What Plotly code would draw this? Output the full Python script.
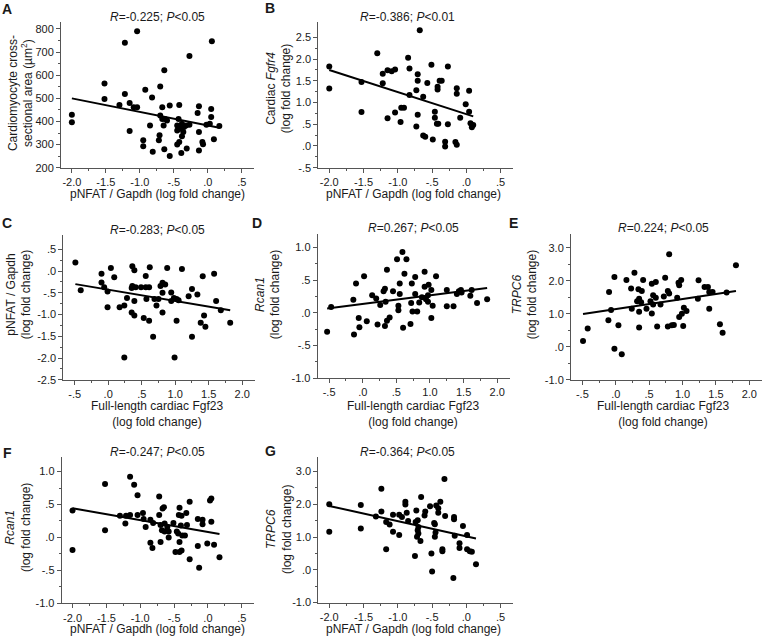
import numpy as np
import plotly.graph_objects as go

# ---- data ----
A_X = [-2.0, -2.0, -1.52, -1.52, -1.30, -1.22, -1.22, -1.04, -1.15, -1.09, -1.04, -1.15, -0.92, -0.95, -0.95,
       -0.82, -0.85, -0.81, -0.70, -0.70, -0.67, -0.67, -0.71, -0.72, -0.64, -0.63, -0.60, -0.65, -0.64, -0.56,
       -0.56, -0.45, -0.43, -0.45, -0.42, -0.40, -0.38, -0.36, -0.45, -0.42, -0.38, -0.39, -0.35, -0.32, -0.31,
       -0.27, -0.27, -0.15, -0.13, -0.13, -0.13, -0.08, -0.07, -0.02, 0.03, 0.05, 0.05, 0.06, 0.09, 0.17]
A_Y = [429, 397, 564, 497, 471, 519, 740, 790, 480, 461, 461, 359, 537, 319, 293,
       504, 383, 269, 551, 426, 411, 461, 340, 319, 621, 411, 404, 383, 280, 469,
       251, 383, 411, 361, 471, 369, 390, 354, 300, 311, 336, 264, 376, 383, 283,
       683, 386, 437, 466, 354, 274, 311, 301, 386, 390, 419, 454, 747, 323, 380]

B_X = [-2.0, -2.0, -1.53, -1.53, -1.30, -1.22, -1.22, -1.15, -1.09, -1.04, -1.15, -1.04, -0.95, -0.91, -0.96,
       -0.85, -0.83, -0.83, -0.73, -0.71, -0.71, -0.71, -0.73, -0.68, -0.63, -0.63, -0.60, -0.57, -0.51, -0.49,
       -0.46, -0.46, -0.43, -0.42, -0.42, -0.39, -0.36, -0.41, -0.31, -0.31, -0.27, -0.27, -0.16, -0.14, -0.14,
       -0.14, -0.09, -0.01, 0.04, 0.04, 0.06, 0.08, 0.10]
B_Y = [1.83, 1.32, 1.47, 0.78, 2.13, 1.66, 1.44, 1.74, 1.72, 1.76, 0.64, 0.77, 0.88, 0.88, 0.55,
       2.03, 1.78, 1.17, 1.28, 1.65, 1.50, 0.72, 0.45, 2.66, 1.13, 0.24, 0.21, 1.45, 1.87, 0.15,
       0.79, 0.65, 0.51, 1.30, 1.36, 1.50, 1.50, 0.51, 0.10, -0.01, 1.83, 0.50, 0.09, 0.03, 1.33,
       1.20, 0.65, 0.96, 1.27, 0.79, 0.52, 0.43, 0.48]

C_X = [-0.49, -0.41, -0.10, -0.10, -0.06, -0.01, -0.01, 0.04, 0.09, 0.17, 0.24, 0.24, 0.28, 0.36, 0.39,
       0.35, 0.36, 0.39, 0.35, 0.39, 0.41, 0.49, 0.56, 0.56, 0.57, 0.53, 0.61, 0.61, 0.62, 0.67,
       0.69, 0.72, 0.75, 0.78, 0.81, 0.81, 0.81, 0.85, 0.88, 0.94, 0.94, 0.98, 0.99, 1.02, 1.05,
       1.02, 1.10, 1.20, 1.25, 1.25, 1.33, 1.38, 1.41, 1.43, 1.45, 1.58, 1.61, 1.68, 1.82]
C_Y = [0.20, -0.44, -0.06, -0.26, -0.37, -0.47, -0.83, 0.07, -0.14, -0.83, -0.79, -1.99, -0.62, 0.11, 0.02,
       -0.39, -0.34, -0.69, -0.95, -1.02, -0.37, -0.37, -0.37, -0.11, -0.64, -1.08, -0.37, -1.14, 0.09, -1.51,
       -0.64, -0.79, -0.64, -0.34, -0.27, -0.50, -0.95, -0.31, 0.07, -0.49, -0.69, -0.62, -1.99, -0.64, -0.67,
       -1.14, 0.05, -0.58, -0.41, -1.51, -0.54, -1.19, -0.12, -1.02, -1.28, -0.06, -0.69, -0.90, -1.19]

D_X = [-0.53, -0.47, -0.14, -0.13, -0.10, -0.06, -0.05, 0.02, 0.06, 0.14, 0.20, 0.22, 0.26, 0.31, 0.33,
       0.33, 0.34, 0.36, 0.36, 0.40, 0.45, 0.51, 0.55, 0.55, 0.53, 0.53, 0.59, 0.62, 0.60, 0.65,
       0.72, 0.73, 0.71, 0.74, 0.78, 0.78, 0.81, 0.84, 0.88, 0.92, 0.94, 0.97, 0.98, 1.02, 1.02,
       1.04, 1.09, 1.25, 1.25, 1.35, 1.40, 1.43, 1.46, 1.47, 1.60, 1.62, 1.70, 1.85, 0.97, 0.92]
D_Y = [-0.29, 0.09, 0.20, -0.33, 0.45, -0.08, -0.22, 0.56, -0.13, 0.27, 0.22, -0.18, 0.12, 0.33, 0.37,
       -0.20, 0.17, 0.66, -0.12, -0.07, 0.33, 0.82, 0.45, 0.29, 0.04, 0.11, 0.93, 0.60, -0.23, 0.82,
       0.15, 0.45, -0.17, 0.02, 0.55, 0.29, 0.02, 0.16, 0.24, 0.63, 0.21, 0.27, 0.43, 0.35, -0.08,
       0.11, 0.56, 0.35, 0.10, 0.10, 0.29, 0.33, 0.35, 0.31, 0.26, 0.35, 0.15, 0.21, 0.17, 0.40]

E_X = [-0.49, -0.42, -0.10, -0.11, -0.07, -0.02, -0.02, 0.04, 0.09, 0.16, 0.23, 0.24, 0.28, 0.32, 0.34,
       0.35, 0.35, 0.35, 0.39, 0.38, 0.41, 0.46, 0.52, 0.54, 0.54, 0.56, 0.56, 0.60, 0.60, 0.62,
       0.67, 0.72, 0.74, 0.78, 0.80, 0.80, 0.78, 0.84, 0.87, 0.92, 0.94, 0.95, 0.98, 0.95, 0.99,
       1.01, 1.02, 1.06, 1.24, 1.23, 1.33, 1.38, 1.40, 1.40, 1.45, 1.56, 1.60, 1.66, 1.80]
E_Y = [0.17, 0.55, 1.66, 0.80, 1.11, 2.11, -0.06, 0.65, -0.23, 2.02, 1.76, 1.15, 2.24, 1.38, 1.74,
       1.45, 1.06, 0.58, 1.69, 1.35, 2.02, 1.15, 1.38, 1.91, 1.01, 1.56, 1.28, 1.48, 1.96, 0.61,
       1.28, 1.52, 2.09, 1.69, 2.80, 1.61, 0.61, 0.65, 0.66, 1.48, 1.94, 1.86, 2.02, 0.90, 1.00,
       0.63, 1.18, 1.08, 2.01, 1.45, 1.81, 1.81, 1.66, 1.15, 1.66, 0.68, 0.42, 1.64, 2.47]

F_X = [-2.0, -2.0, -1.52, -1.52, -1.30, -1.22, -1.21, -1.15, -1.15, -1.09, -1.04, -1.04, -0.96, -0.95, -0.92,
       -0.85, -0.85, -0.82, -0.81, -0.72, -0.72, -0.70, -0.70, -0.68, -0.67, -0.65, -0.64, -0.64, -0.60, -0.58,
       -0.58, -0.51, -0.48, -0.46, -0.44, -0.43, -0.42, -0.42, -0.42, -0.40, -0.39, -0.38, -0.39, -0.34, -0.32,
       -0.31, -0.27, -0.27, -0.15, -0.15, -0.13, -0.08, -0.08, -0.01, 0.03, 0.05, 0.05, 0.09, 0.17]
F_Y = [0.41, -0.19, 0.81, 0.11, 0.33, 0.21, 0.33, 0.92, 0.34, 0.80, 0.64, 0.34, 0.37, 0.28, 0.16,
       0.27, -0.08, -0.16, 0.22, 0.62, 0.34, -0.07, 0.19, 0.11, 0.44, 0.46, 0.21, 0.09, 0.16, 0.09,
       0.00, 0.22, -0.22, 0.09, 0.06, 0.34, 0.45, -0.07, -0.22, 0.18, 0.33, 0.03, -0.20, 0.03, 0.37,
       0.19, 0.54, -0.33, 0.28, -0.13, -0.46, 0.27, 0.20, -0.09, 0.56, 0.59, 0.24, -0.11, -0.30]

G_X = [-2.0, -2.0, -1.54, -1.54, -1.32, -1.24, -1.24, -1.17, -1.17, -1.12, -1.07, -1.07, -0.98, -0.98, -0.94,
       -0.89, -0.89, -0.87, -0.85, -0.75, -0.74, -0.73, -0.71, -0.71, -0.72, -0.70, -0.70, -0.67, -0.66, -0.61,
       -0.60, -0.53, -0.51, -0.50, -0.47, -0.46, -0.45, -0.46, -0.44, -0.41, -0.41, -0.38, -0.35, -0.35, -0.32,
       -0.31, -0.18, -0.18, -0.19, -0.17, -0.10, -0.10, -0.05, 0.01, 0.01, 0.05, 0.08, 0.14]
G_Y = [2.00, 1.16, 1.98, 1.26, 1.63, 2.47, 1.78, 1.46, 0.63, 1.38, 1.68, 1.16, 1.06, 1.68, 1.61,
       2.08, 1.99, 1.74, 1.49, 0.42, 1.46, 1.81, 1.51, 1.21, 1.01, 1.31, 1.11, 0.88, 2.22, 1.66,
       1.78, 1.94, 0.50, -0.05, 1.43, 1.39, 1.14, 1.01, 1.96, 1.74, 1.88, 2.08, 0.63, 0.57, 2.77,
       1.64, 1.61, 1.54, -0.25, 1.04, 0.81, 0.67, 1.34, 1.06, 0.63, 0.57, 0.55, 0.17]

# ---- tick values / labels ----
PNFAT_TICKS = [-2.0, -1.5, -1.0, -0.5, 0.0, 0.5]
PNFAT_LABELS = ["-2.0", "-1.5", "-1.0", "-.5", ".0", ".5"]
PNFAT_MINOR = [-1.75, -1.25, -0.75, -0.25, 0.25]
FGF_TICKS = [-0.5, 0.0, 0.5, 1.0, 1.5, 2.0]
FGF_LABELS = ["-.5", ".0", ".5", "1.0", "1.5", "2.0"]
FGF_MINOR = [-0.25, 0.25, 0.75, 1.25, 1.75]

A_YTICKS = [200, 300, 400, 500, 600, 700, 800]
A_YLABELS = ["200", "300", "400", "500", "600", "700", "800"]
A_YMINOR = [250, 350, 450, 550, 650, 750]
B_YTICKS = [-0.5, 0.0, 0.5, 1.0, 1.5, 2.0, 2.5]
B_YLABELS = ["-.5", ".0", ".5", "1.0", "1.5", "2.0", "2.5"]
B_YMINOR = [-0.25, 0.25, 0.75, 1.25, 1.75, 2.25]
C_YTICKS = [-2.5, -2.0, -1.5, -1.0, -0.5, 0.0, 0.5]
C_YLABELS = ["-2.5", "-2.0", "-1.5", "-1.0", "-.5", ".0", ".5"]
C_YMINOR = [-2.25, -1.75, -1.25, -0.75, -0.25, 0.25]
RC_YTICKS = [-1.0, -0.5, 0.0, 0.5, 1.0]
RC_YLABELS = ["-1.0", "-.5", ".0", ".5", "1.0"]
RC_YMINOR = [-0.75, -0.25, 0.25, 0.75]
TR_YTICKS = [-1.0, 0.0, 1.0, 2.0, 3.0]
TR_YLABELS = ["-1.0", ".0", "1.0", "2.0", "3.0"]
TR_YMINOR = [-0.5, 0.5, 1.5, 2.5]

STATS = ["<i>R</i>=-0.225; <i>P</i>&lt;0.05", "<i>R</i>=-0.386; <i>P</i>&lt;0.01",
         "<i>R</i>=-0.283; <i>P</i>&lt;0.05", "<i>R</i>=0.267; <i>P</i>&lt;0.05",
         "<i>R</i>=0.224; <i>P</i>&lt;0.05", "<i>R</i>=-0.247; <i>P</i>&lt;0.05",
         "<i>R</i>=-0.364; <i>P</i>&lt;0.05"]

XT_PN = "pNFAT / Gapdh (log fold change)"
XT_FG = "Full-length cardiac Fgf23<br>(log fold change)"

W, H = 763, 644
FONT = "Liberation Sans, Arial, sans-serif"
INK = "#1a1a1a"
AX = "#555555"

PN_RANGE = [-2.16, 0.68]
FG_RANGE = [-0.67, 2.19]

panels = [
    dict(letter="A", x=A_X, y=A_Y, box=(61, 254, 22.7, 169.3), xr=PN_RANGE, yr=[200, 828],
         xt=(PNFAT_TICKS, PNFAT_LABELS, PNFAT_MINOR), yt=(A_YTICKS, A_YLABELS, A_YMINOR),
         xtitle=XT_PN, ytitle="Cardiomyocyte cross-<br>sectional area (µm<sup>2</sup>)",
         lpos=(7, 9), tpos=(157, 17), xtpos=(157, 196), ytpos=(21, 94)),
    dict(letter="B", x=B_X, y=B_Y, box=(318.3, 513, 22.7, 169.3), xr=PN_RANGE, yr=[-0.5, 2.84],
         xt=(PNFAT_TICKS, PNFAT_LABELS, PNFAT_MINOR), yt=(B_YTICKS, B_YLABELS, B_YMINOR),
         xtitle=XT_PN, ytitle="Cardiac <i>Fgfr4</i><br>(log fold change)",
         lpos=(270, 8), tpos=(407, 17), xtpos=(413, 196), ytpos=(279, 90)),
    dict(letter="C", x=C_X, y=C_Y, box=(63.3, 255, 237.7, 383.3), xr=FG_RANGE, yr=[-2.5, 0.82],
         xt=(FGF_TICKS, FGF_LABELS, FGF_MINOR), yt=(C_YTICKS, C_YLABELS, C_YMINOR),
         xtitle=XT_FG, ytitle="pNFAT / Gapdh<br>(log fold change)",
         lpos=(7, 225), tpos=(157, 232), xtpos=(157, 418), ytpos=(19, 298)),
    dict(letter="D", x=D_X, y=D_Y, box=(317.7, 510, 236.7, 381.7), xr=FG_RANGE, yr=[-1, 1.2],
         xt=(FGF_TICKS, FGF_LABELS, FGF_MINOR), yt=(RC_YTICKS, RC_YLABELS, RC_YMINOR),
         xtitle=XT_FG, ytitle="<i>Rcan1</i><br>(log fold change)",
         lpos=(257, 225), tpos=(413, 230), xtpos=(413, 418), ytpos=(268, 298)),
    dict(letter="E", x=E_X, y=E_Y, box=(571, 762, 236.7, 383.3), xr=FG_RANGE, yr=[-1, 3.4],
         xt=(FGF_TICKS, FGF_LABELS, FGF_MINOR), yt=(TR_YTICKS, TR_YLABELS, TR_YMINOR),
         xtitle=XT_FG, ytitle="<i>TRPC6</i><br>(log fold change)",
         lpos=(513, 225), tpos=(663, 230), xtpos=(663, 418), ytpos=(525, 298)),
    dict(letter="F", x=F_X, y=F_Y, box=(61.7, 254, 461.7, 609), xr=PN_RANGE, yr=[-1, 1.215],
         xt=(PNFAT_TICKS, PNFAT_LABELS, PNFAT_MINOR), yt=(RC_YTICKS, RC_YLABELS, RC_YMINOR),
         xtitle=XT_PN, ytitle="<i>Rcan1</i><br>(log fold change)",
         lpos=(7, 457), tpos=(157, 456), xtpos=(157, 635), ytpos=(18, 533)),
    dict(letter="G", x=G_X, y=G_Y, box=(318.3, 513, 461.7, 608.3), xr=PN_RANGE, yr=[-1, 3.43],
         xt=(PNFAT_TICKS, PNFAT_LABELS, PNFAT_MINOR), yt=(TR_YTICKS, TR_YLABELS, TR_YMINOR),
         xtitle=XT_PN, ytitle="<i>TRPC6</i><br>(log fold change)",
         lpos=(270, 455), tpos=(407, 456), xtpos=(413, 635), ytpos=(279, 535)),
]

fig = go.Figure()
annotations = []
layout_axes = {}


def note(text, px, py, size=12, angle=0, bold=False):
    annotations.append(dict(
        text=f"<b>{text}</b>" if bold else text, x=px / W, y=1 - py / H,
        xref="paper", yref="paper", xanchor="center", yanchor="middle",
        showarrow=False, textangle=angle, font=dict(family=FONT, size=size, color=INK)))


for i, p in enumerate(panels, start=1):
    sfx = "" if i == 1 else str(i)
    xs = np.array(p["x"])
    ys = np.array(p["y"])

    fig.add_trace(go.Scatter(x=xs, y=ys, mode="markers", xaxis="x" + sfx, yaxis="y" + sfx,
                             marker=dict(size=6, color="black"), showlegend=False))
    # least squares line across the observed x span
    slope, icpt = np.polyfit(xs, ys, 1)
    lx = np.array([xs.min(), xs.max()])
    fig.add_trace(go.Scatter(x=lx, y=slope * lx + icpt, mode="lines", xaxis="x" + sfx, yaxis="y" + sfx,
                             line=dict(color="black", width=2), showlegend=False))

    l, r, t, b = p["box"]
    common = dict(showline=True, linecolor=AX, linewidth=1, ticks="outside", ticklen=4,
                  tickcolor=AX, tickwidth=1, showgrid=False, zeroline=False, fixedrange=True,
                  tickfont=dict(family=FONT, size=11, color=INK))
    layout_axes["xaxis" + sfx] = dict(
        common, domain=[l / W, r / W], anchor="y" + sfx, range=p["xr"],
        tickmode="array", tickvals=p["xt"][0], ticktext=p["xt"][1],
        minor=dict(tickmode="array", tickvals=p["xt"][2], ticks="outside", ticklen=2, tickcolor=AX))
    layout_axes["yaxis" + sfx] = dict(
        common, domain=[1 - b / H, 1 - t / H], anchor="x" + sfx, range=p["yr"],
        tickmode="array", tickvals=p["yt"][0], ticktext=p["yt"][1],
        minor=dict(tickmode="array", tickvals=p["yt"][2], ticks="outside", ticklen=2, tickcolor=AX))

    note(p["letter"], *p["lpos"], size=14, bold=True)
    note(STATS[i - 1], *p["tpos"])
    note(p["xtitle"], *p["xtpos"])
    note(p["ytitle"], *p["ytpos"], angle=-90)

fig.update_layout(
    width=W, height=H, margin=dict(l=0, r=0, t=0, b=0),
    paper_bgcolor="white", plot_bgcolor="white",
    font=dict(family=FONT, color=INK),
    annotations=annotations, **layout_axes)

# drop the browser's default body margin so the figure sits at the page corner
fig.write_html("out.html", config={"displayModeBar": False},
               post_script="document.body.style.margin = '0';")
